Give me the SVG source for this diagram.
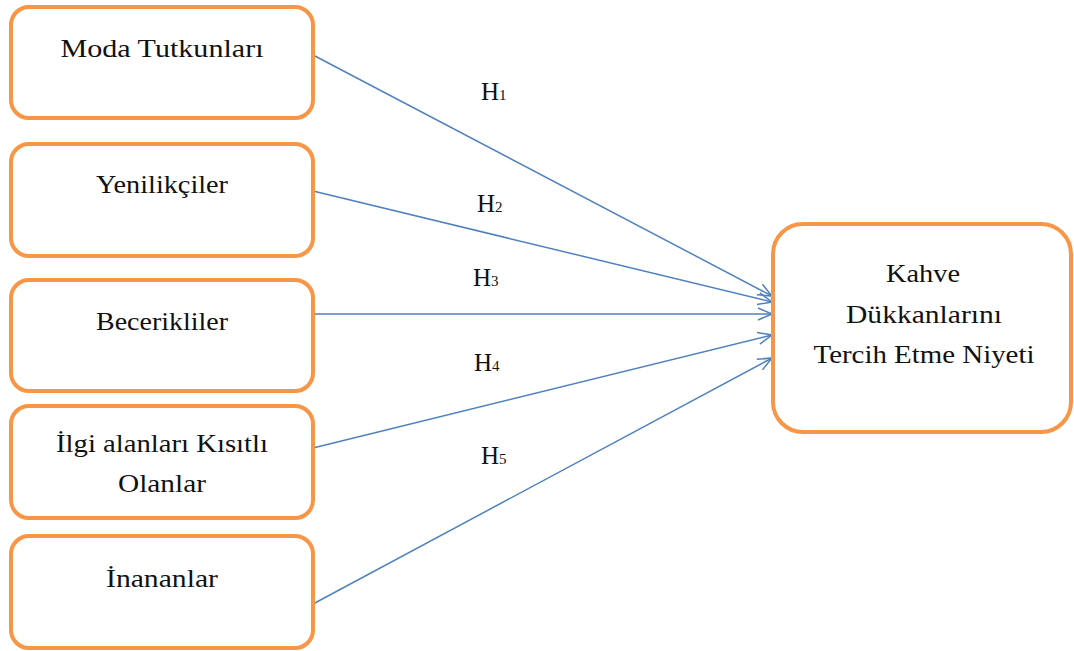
<svg xmlns="http://www.w3.org/2000/svg" width="1074" height="651" viewBox="0 0 1074 651">
<style>
.box{fill:#fff;stroke:#F79646;stroke-width:4}
.t{font-family:"Liberation Serif","Times New Roman",serif;font-size:26px;fill:#111;text-anchor:middle}
.h{font-family:"Liberation Serif","Times New Roman",serif;font-size:25px;fill:#111}
.s{font-size:15px}
.c{stroke:#4F81BD;stroke-width:1.5;fill:none;marker-end:url(#ah)}
</style>
<defs>
<marker id="ah" markerUnits="userSpaceOnUse" viewBox="0 0 16 14" refX="15" refY="7" markerWidth="16" markerHeight="14" orient="auto">
<path d="M1,1 L15,7 L1,13" fill="none" stroke="#4F81BD" stroke-width="1.5"/>
</marker>
</defs>
<rect width="1074" height="651" fill="#fff"/>
<g id="connectors">
<line class="c" x1="313" y1="55" x2="772" y2="296"/>
<line class="c" x1="313" y1="191" x2="772" y2="302"/>
<line class="c" x1="313" y1="314" x2="772" y2="314"/>
<line class="c" x1="313" y1="448" x2="772" y2="335"/>
<line class="c" x1="313" y1="604" x2="772" y2="358"/>
</g>
<g id="labels">
<text class="h" x="481" y="100">H<tspan class="s">1</tspan></text>
<text class="h" x="477" y="212">H<tspan class="s">2</tspan></text>
<text class="h" x="473" y="286">H<tspan class="s">3</tspan></text>
<text class="h" x="474" y="371">H<tspan class="s">4</tspan></text>
<text class="h" x="481" y="464">H<tspan class="s">5</tspan></text>
</g>
<g id="n1">
<rect class="box" x="11" y="7" width="302" height="111" rx="18"/>
<text class="t" x="162" y="57" textLength="203" lengthAdjust="spacingAndGlyphs">Moda Tutkunları</text>
</g>
<g id="n2">
<rect class="box" x="11" y="144" width="302" height="112" rx="18"/>
<text class="t" x="162" y="193" textLength="132" lengthAdjust="spacingAndGlyphs">Yenilikçiler</text>
</g>
<g id="n3">
<rect class="box" x="11" y="280" width="302" height="111" rx="18"/>
<text class="t" x="162" y="330" textLength="132" lengthAdjust="spacingAndGlyphs">Becerikliler</text>
</g>
<g id="n4">
<rect class="box" x="11" y="406" width="302" height="112" rx="18"/>
<text class="t" x="162" y="452" textLength="212" lengthAdjust="spacingAndGlyphs">İlgi alanları Kısıtlı</text>
<text class="t" x="162" y="492" textLength="88" lengthAdjust="spacingAndGlyphs">Olanlar</text>
</g>
<g id="n5">
<rect class="box" x="11" y="536" width="302" height="112" rx="18"/>
<text class="t" x="162" y="587" textLength="112" lengthAdjust="spacingAndGlyphs">İnananlar</text>
</g>
<g id="n6">
<rect class="box" x="773" y="224" width="298" height="208" rx="30"/>
<text class="t" x="923" y="282" textLength="74" lengthAdjust="spacingAndGlyphs">Kahve</text>
<text class="t" x="924" y="323" textLength="156" lengthAdjust="spacingAndGlyphs">Dükkanlarını</text>
<text class="t" x="924" y="363" textLength="221" lengthAdjust="spacingAndGlyphs">Tercih Etme Niyeti</text>
</g>
</svg>
